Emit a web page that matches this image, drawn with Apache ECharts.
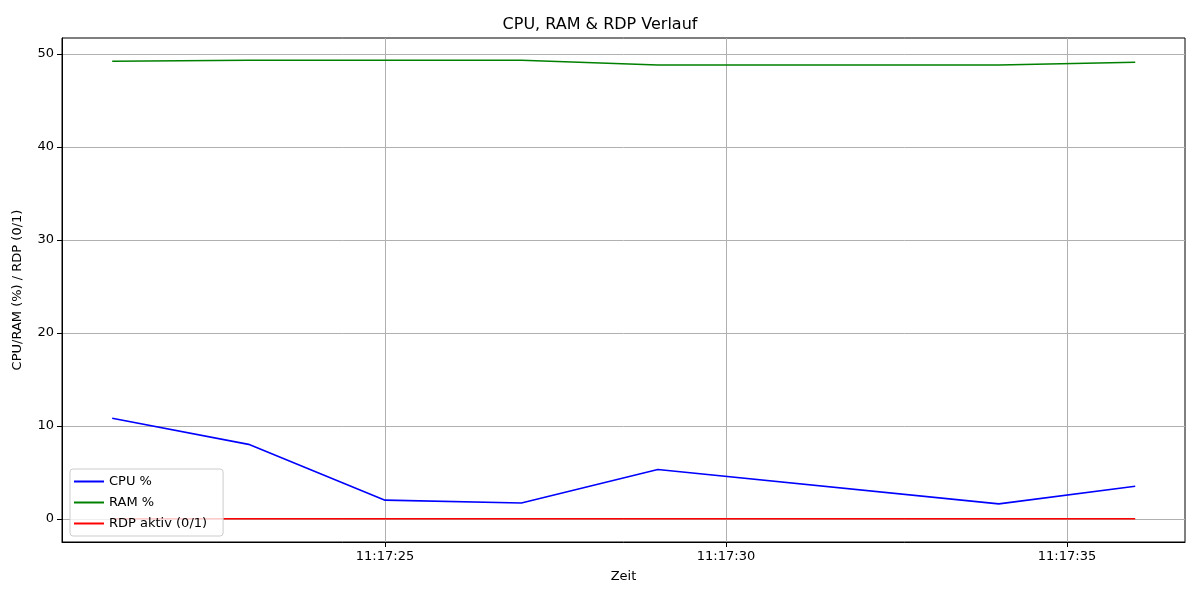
<!DOCTYPE html>
<html>
<head>
<meta charset="utf-8">
<script src="https://cdn.jsdelivr.net/npm/echarts@6/dist/echarts.min.js"></script>
<style>html,body{margin:0;padding:0;background:#fff}#c{width:1200px;height:600px}</style>
</head>
<body>
<div id="c"></div>
<script>
// Data
var times = ['11:17:21', '11:17:23', '11:17:25', '11:17:27', '11:17:29', '11:17:34', '11:17:36'];
var cpu = [10.8, 8.0, 2.0, 1.7, 5.3, 1.6, 3.5];
var ram = [49.2, 49.3, 49.3, 49.3, 48.8, 48.8, 49.1];
var rdp = [0, 0, 0, 0, 0, 0, 0];
var tickLabels = ['11:17:25', '11:17:30', '11:17:35'];
var yTicks = [0, 10, 20, 30, 40, 50];

function toSec(t) {
    var p = t.split(':');
    return (+p[0]) * 3600 + (+p[1]) * 60 + (+p[2]);
}
function pad(n) { return (n < 10 ? '0' : '') + n; }
function fmt(s) {
    s = Math.round(s);
    return pad(Math.floor(s / 3600)) + ':' + pad(Math.floor(s / 60) % 60) + ':' + pad(s % 60);
}

var xs = times.map(toSec);
var ticks = tickLabels.map(toSec);
function pairs(vals) { return vals.map(function (v, i) { return [xs[i], v]; }); }

var font = 'DejaVu Sans';
var myChart = echarts.init(document.getElementById('c'));
var option = {
    animation: false,
    textStyle: { fontFamily: font },
    title: {
        text: 'CPU, RAM & RDP Verlauf', left: 'center', top: 12,
        textStyle: { fontFamily: font, fontSize: 16, fontWeight: 'normal', color: '#000' }
    },
    legend: {
        orient: 'vertical', left: 70, top: 469,
        itemWidth: 30, itemHeight: 2, itemGap: 8,
        padding: [6, 16, 6, 4],
        borderColor: '#ccc', borderWidth: 1, borderRadius: 3,
        backgroundColor: 'rgba(255,255,255,0.8)',
        textStyle: { fontFamily: font, fontSize: 13, color: '#000' },
        data: [
            { name: 'CPU %', icon: 'rect' },
            { name: 'RAM %', icon: 'rect' },
            { name: 'RDP aktiv (0/1)', icon: 'rect' }
        ]
    },
    grid: { left: 62, right: 15, top: 38, bottom: 58, show: true, borderColor: '#000', borderWidth: 1 },
    xAxis: {
        type: 'value',
        min: toSec('11:17:20') + 0.264, max: toSec('11:17:36') + 0.73,
        name: 'Zeit', nameLocation: 'middle', nameGap: 28,
        nameTextStyle: { fontFamily: font, fontSize: 13, color: '#000' },
        axisLine: { onZero: false, lineStyle: { color: '#000' } },
        axisTick: { show: true, customValues: ticks, length: 5, lineStyle: { color: '#000' } },
        axisLabel: { customValues: ticks, formatter: fmt, fontFamily: font, fontSize: 13, color: '#000' },
        splitLine: { show: true, lineStyle: { color: '#b0b0b0' } }
    },
    yAxis: {
        type: 'value', min: -2.5, max: 51.7, interval: 10,
        name: 'CPU/RAM (%) / RDP (0/1)', nameLocation: 'middle', nameGap: 38,
        nameTextStyle: { fontFamily: font, fontSize: 13, color: '#000' },
        axisLine: { show: true, lineStyle: { color: '#000' } },
        axisTick: { show: true, customValues: yTicks, length: 5, lineStyle: { color: '#000' } },
        axisLabel: { customValues: yTicks, fontFamily: font, fontSize: 13, color: '#000' },
        splitLine: { show: true, lineStyle: { color: '#b0b0b0' } }
    },
    series: [
        { name: 'CPU %', type: 'line', data: pairs(cpu), showSymbol: false, color: '#0000ff', lineStyle: { width: 1.6 } },
        { name: 'RAM %', type: 'line', data: pairs(ram), showSymbol: false, color: '#008000', lineStyle: { width: 1.6 } },
        { name: 'RDP aktiv (0/1)', type: 'line', data: pairs(rdp), showSymbol: false, color: '#ff0000', lineStyle: { width: 1.6 } }
    ]
};
myChart.setOption(option);
</script>
</body>
</html>
